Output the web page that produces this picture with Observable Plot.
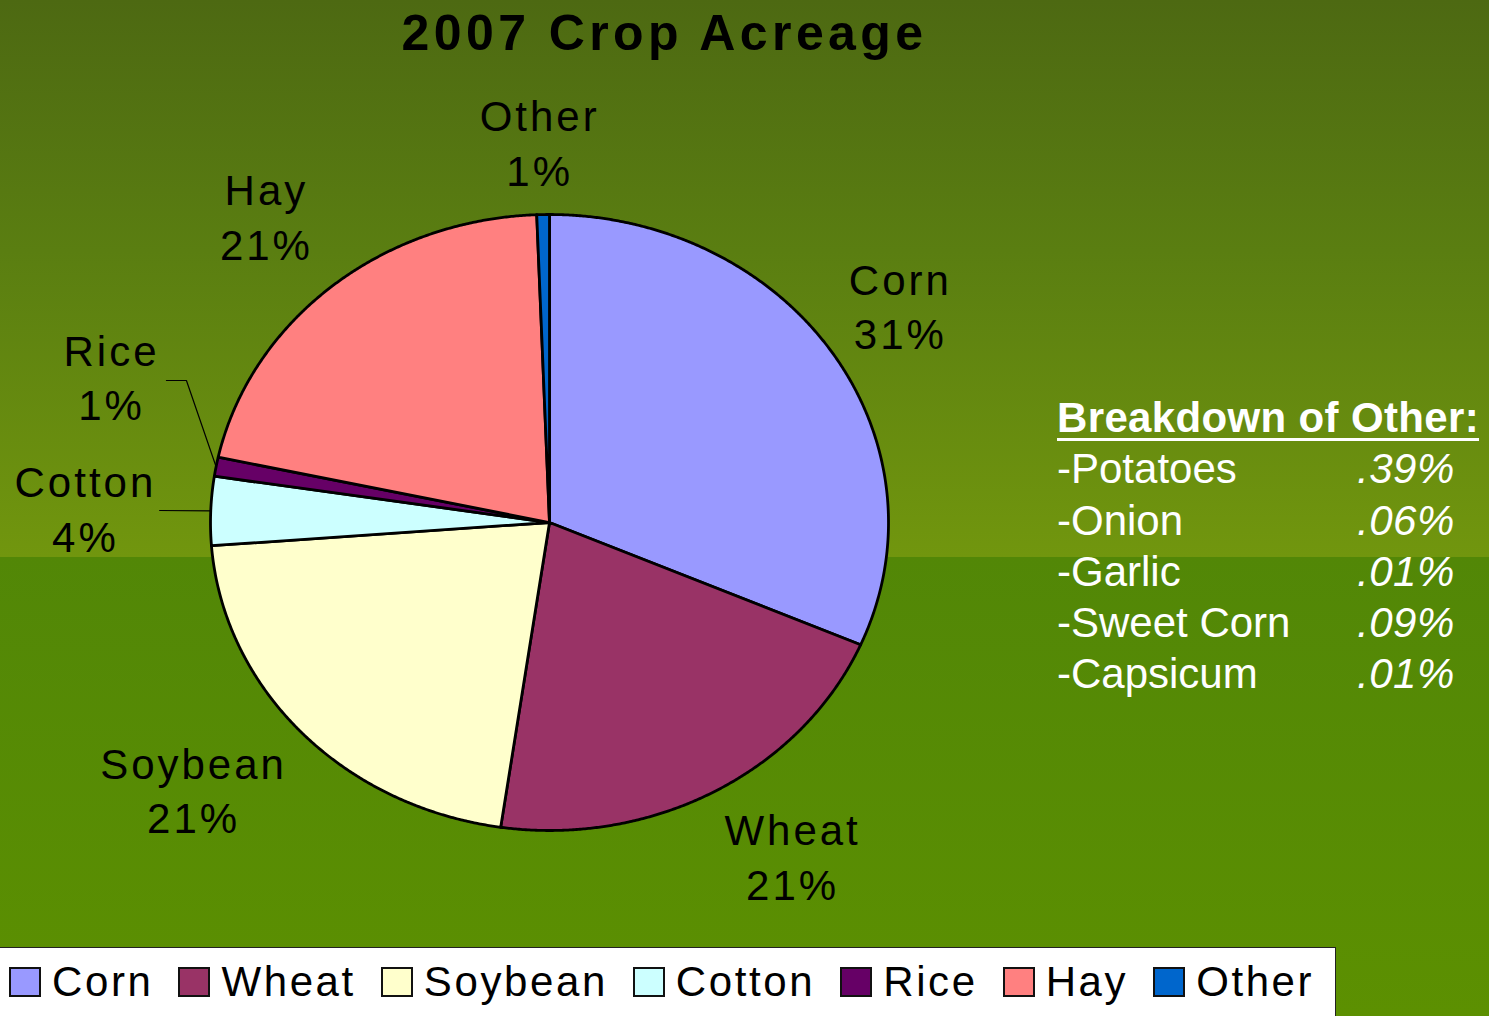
<!DOCTYPE html>
<html>
<head>
<meta charset="utf-8">
<script src="https://cdn.jsdelivr.net/npm/d3@7"></script>
<script src="https://cdn.jsdelivr.net/npm/@observablehq/plot@0.6"></script>
<style>
  html, body { margin: 0; padding: 0; }
  body { width: 1489px; height: 1016px; overflow: hidden; font-family: "Liberation Sans", Arial, sans-serif; }
  #wrap {
    position: relative; width: 1489px; height: 1016px;
    background: linear-gradient(180deg, #4d6912 0px, #5a7e11 250px, #71960e 557px, #528707 557px, #5c9001 1016px);
  }
  #title {
    position: absolute; left: 0; width: 1329px; top: 3px; text-align: center;
    font-weight: bold; font-size: 50px; letter-spacing: 4.4px; color: #000; line-height: 60px;
  }
  #chart { position: absolute; left: 0; top: 0; }
  #chart svg text { letter-spacing: 3px; }
  #breakdown {
    position: absolute; left: 1057px; top: 392px; color: #fff; font-size: 42px; line-height: 51.3px;
  }
  #breakdown .head { font-weight: bold; letter-spacing: 0.35px; text-decoration: underline; text-decoration-thickness: 3px; text-underline-offset: 6px; }
  #breakdown .row { position: relative; height: 51.3px; white-space: nowrap; }
  #breakdown .val { position: absolute; left: 300px; top: 0; font-style: italic; letter-spacing: 0.5px; }
  #legend {
    position: absolute; left: 0; top: 947px; width: 1336px; height: 69px; background: #fff;
    border-top: 1px solid #222; border-right: 1px solid #222;
    display: flex; align-items: center; box-sizing: border-box; padding-left: 9px;
  }
  #legend .item { display: flex; align-items: center; margin-right: 25px; }
  #legend .sw { width: 28px; height: 26px; border: 2px solid #111; margin-right: 11px; }
  #legend .lab { font-size: 42px; letter-spacing: 2.6px; line-height: 50px; }
</style>
</head>
<body>
<div id="wrap">
  <div id="chart"></div>
  <div id="title">2007 Crop Acreage</div>
  <div id="breakdown"></div>
  <div id="legend"></div>
</div>
<script>
// ---- data ----
const crops = ["Corn", "Wheat", "Soybean", "Cotton", "Rice", "Hay", "Other"];
const shares = [31.5, 20.8, 21.5, 3.6, 1.0, 21.0, 0.6];
const shareLabels = ["31%", "21%", "21%", "4%", "1%", "21%", "1%"];
const colors = ["#9999ff", "#993366", "#ffffcc", "#ccffff", "#660066", "#ff8080", "#0066cc"];
const otherItems = ["-Potatoes", "-Onion", "-Garlic", "-Sweet Corn", "-Capsicum"];
const otherValues = [".39%", ".06%", ".01%", ".09%", ".01%"];

// ---- layout (label anchors in pie units; leader elbows) ----
const labelAnchor = {
  Corn: [1.035, 0.708], Wheat: [0.717, -1.08], Soybean: [-1.05, -0.865],
  Cotton: [-1.369, 0.05], Rice: [-1.292, 0.476], Hay: [-0.835, 0.998], Other: [-0.029, 1.238]
};
const leaderElbows = {
  Rice: [[-1.130, 0.461], [-1.071, 0.461]],
  Cotton: [[-1.150, 0.039]]
};

// ---- geometry from data ----
const total = d3.sum(shares);
const cum = [0, ...d3.cumsum(shares)];
const slicePts = [];
const mids = {};
crops.forEach((name, i) => {
  const a0 = 2 * Math.PI * cum[i] / total;
  const a1 = 2 * Math.PI * cum[i + 1] / total;
  mids[name] = (a0 + a1) / 2;
  slicePts.push({name, x: 0, y: 0});
  const n = Math.max(2, Math.ceil((a1 - a0) / 0.005));
  for (let k = 0; k <= n; k++) {
    const t = a0 + (a1 - a0) * k / n;
    slicePts.push({name, x: Math.sin(t), y: Math.cos(t)});
  }
  slicePts.push({name, x: 0, y: 0});
});

const labels = crops.map((name, i) => ({
  name, text: name + "\n" + shareLabels[i], x: labelAnchor[name][0], y: labelAnchor[name][1]
}));

const leaders = [];
Object.entries(leaderElbows).forEach(([name, elbows]) => {
  elbows.forEach(([x, y]) => leaders.push({name, x, y}));
  leaders.push({name, x: Math.sin(mids[name]), y: Math.cos(mids[name])});
});

const plot = Plot.plot({
  width: 1489, height: 1016,
  marginLeft: 210, marginRight: 601, marginTop: 214, marginBottom: 186,
  x: {domain: [-1, 1], axis: null},
  y: {domain: [-1, 1], axis: null},
  color: {domain: crops, range: colors},
  style: {background: "transparent", fontFamily: "'Liberation Sans', Arial, sans-serif", overflow: "visible"},
  marks: [
    Plot.line(slicePts, {x: "x", y: "y", z: "name", fill: "name", stroke: "#000", strokeWidth: 2.8, strokeLinejoin: "round"}),
    Plot.line(leaders, {x: "x", y: "y", z: "name", stroke: "#000", strokeWidth: 1.2}),
    Plot.text(labels, {x: "x", y: "y", text: "text", fontSize: 42, lineHeight: 1.29, fill: "#000", textAnchor: "middle"})
  ]
});
document.getElementById("chart").appendChild(plot);

// breakdown box
const bd = document.getElementById("breakdown");
bd.innerHTML = `<div class="row head">Breakdown of Other:</div>` +
  otherItems.map((t, i) => `<div class="row">${t}<span class="val">${otherValues[i]}</span></div>`).join("");

// legend
const lg = document.getElementById("legend");
lg.innerHTML = crops.map((c, i) =>
  `<div class="item"><div class="sw" style="background:${colors[i]}"></div><div class="lab">${c}</div></div>`).join("");
</script>
</body>
</html>
